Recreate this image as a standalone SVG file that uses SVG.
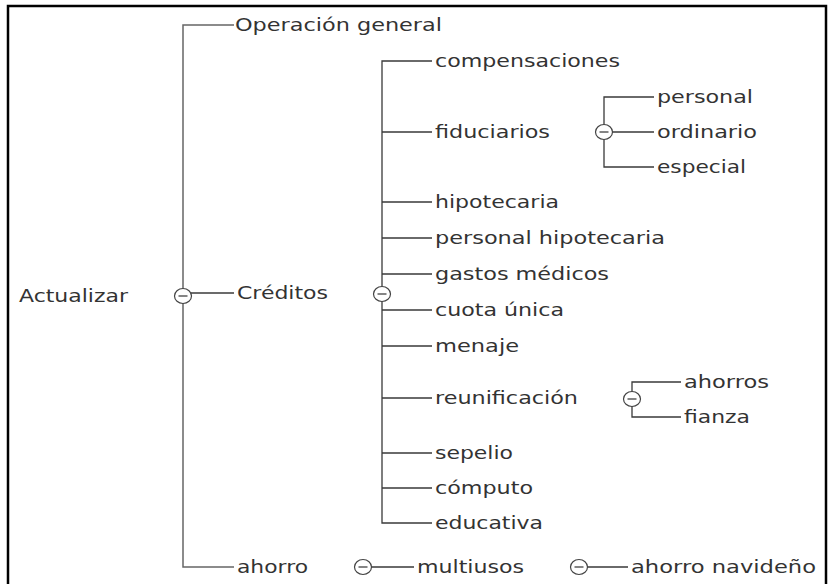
<svg xmlns="http://www.w3.org/2000/svg" width="828" height="584" viewBox="0 0 828 584">
<style>
text{font-family:"DejaVu Sans",Verdana,sans-serif;font-size:18px;fill:#333}
.ln{stroke:#3a3a3a;stroke-width:1.3;fill:none}
.tr{stroke:#666;stroke-width:1.5;fill:none}
.cx{fill:#fff;stroke:#444;stroke-width:1.2}
.mn{stroke:#333;stroke-width:1.2}
</style>
<defs>
<g id="tog"><ellipse class="cx" cx="0" cy="0" rx="8.5" ry="7.5"/><line class="mn" x1="-4.5" y1="0" x2="4.5" y2="0"/></g>
</defs>
<rect x="8" y="6" width="818" height="600" fill="#fff" stroke="#000" stroke-width="2.5"/>
<g id="connectors">
<path class="tr" d="M234 25H183V567H234"/>
<path class="ln" d="M191 293H234"/>
<path class="ln" d="M432 61H382V523H432"/>
<path class="ln" d="M382 132H432M382 202H432M382 238H432M382 274H432M382 310H432M382 346H432M382 398H432M382 453H432M382 488H432"/>
<path class="ln" d="M654 97H604V167H654M612 132H654"/>
<path class="ln" d="M681 382H632V417H681"/>
<path class="ln" d="M371 567H414M587 567H628"/>
</g>
<g id="toggles">
<use href="#tog" x="183" y="296"/>
<use href="#tog" x="382" y="294"/>
<use href="#tog" x="604" y="132"/>
<use href="#tog" x="632" y="399"/>
<use href="#tog" x="363" y="567"/>
<use href="#tog" x="579" y="567"/>
</g>
<g id="n-actualizar"><text x="19" y="302" textLength="109" lengthAdjust="spacingAndGlyphs">Actualizar</text></g>
<g id="n-operacion"><text x="235" y="31" textLength="207" lengthAdjust="spacingAndGlyphs">Operación general</text></g>
<g id="n-creditos"><text x="237" y="299" textLength="91" lengthAdjust="spacingAndGlyphs">Créditos</text></g>
<g id="n-ahorro"><text x="237" y="573" textLength="71" lengthAdjust="spacingAndGlyphs">ahorro</text></g>
<g id="n-compensaciones"><text x="435" y="67" textLength="185" lengthAdjust="spacingAndGlyphs">compensaciones</text></g>
<g id="n-fiduciarios"><text x="435" y="138" textLength="115" lengthAdjust="spacingAndGlyphs">fiduciarios</text></g>
<g id="n-personal"><text x="657" y="103" textLength="96" lengthAdjust="spacingAndGlyphs">personal</text></g>
<g id="n-ordinario"><text x="657" y="138" textLength="100" lengthAdjust="spacingAndGlyphs">ordinario</text></g>
<g id="n-especial"><text x="657" y="173" textLength="89" lengthAdjust="spacingAndGlyphs">especial</text></g>
<g id="n-hipotecaria"><text x="435" y="208" textLength="124" lengthAdjust="spacingAndGlyphs">hipotecaria</text></g>
<g id="n-personal-hipotecaria"><text x="435" y="244" textLength="230" lengthAdjust="spacingAndGlyphs">personal hipotecaria</text></g>
<g id="n-gastos"><text x="435" y="280" textLength="174" lengthAdjust="spacingAndGlyphs">gastos médicos</text></g>
<g id="n-cuota"><text x="435" y="316" textLength="129" lengthAdjust="spacingAndGlyphs">cuota única</text></g>
<g id="n-menaje"><text x="435" y="352" textLength="84" lengthAdjust="spacingAndGlyphs">menaje</text></g>
<g id="n-reunificacion"><text x="435" y="404" textLength="143" lengthAdjust="spacingAndGlyphs">reunificación</text></g>
<g id="n-ahorros"><text x="684" y="388" textLength="85" lengthAdjust="spacingAndGlyphs">ahorros</text></g>
<g id="n-fianza"><text x="684" y="423" textLength="66" lengthAdjust="spacingAndGlyphs">fianza</text></g>
<g id="n-sepelio"><text x="435" y="459" textLength="78" lengthAdjust="spacingAndGlyphs">sepelio</text></g>
<g id="n-computo"><text x="435" y="494" textLength="98" lengthAdjust="spacingAndGlyphs">cómputo</text></g>
<g id="n-educativa"><text x="435" y="529" textLength="108" lengthAdjust="spacingAndGlyphs">educativa</text></g>
<g id="n-multiusos"><text x="417" y="573" textLength="107" lengthAdjust="spacingAndGlyphs">multiusos</text></g>
<g id="n-navideno"><text x="631" y="573" textLength="185" lengthAdjust="spacingAndGlyphs">ahorro navideño</text></g>
</svg>
